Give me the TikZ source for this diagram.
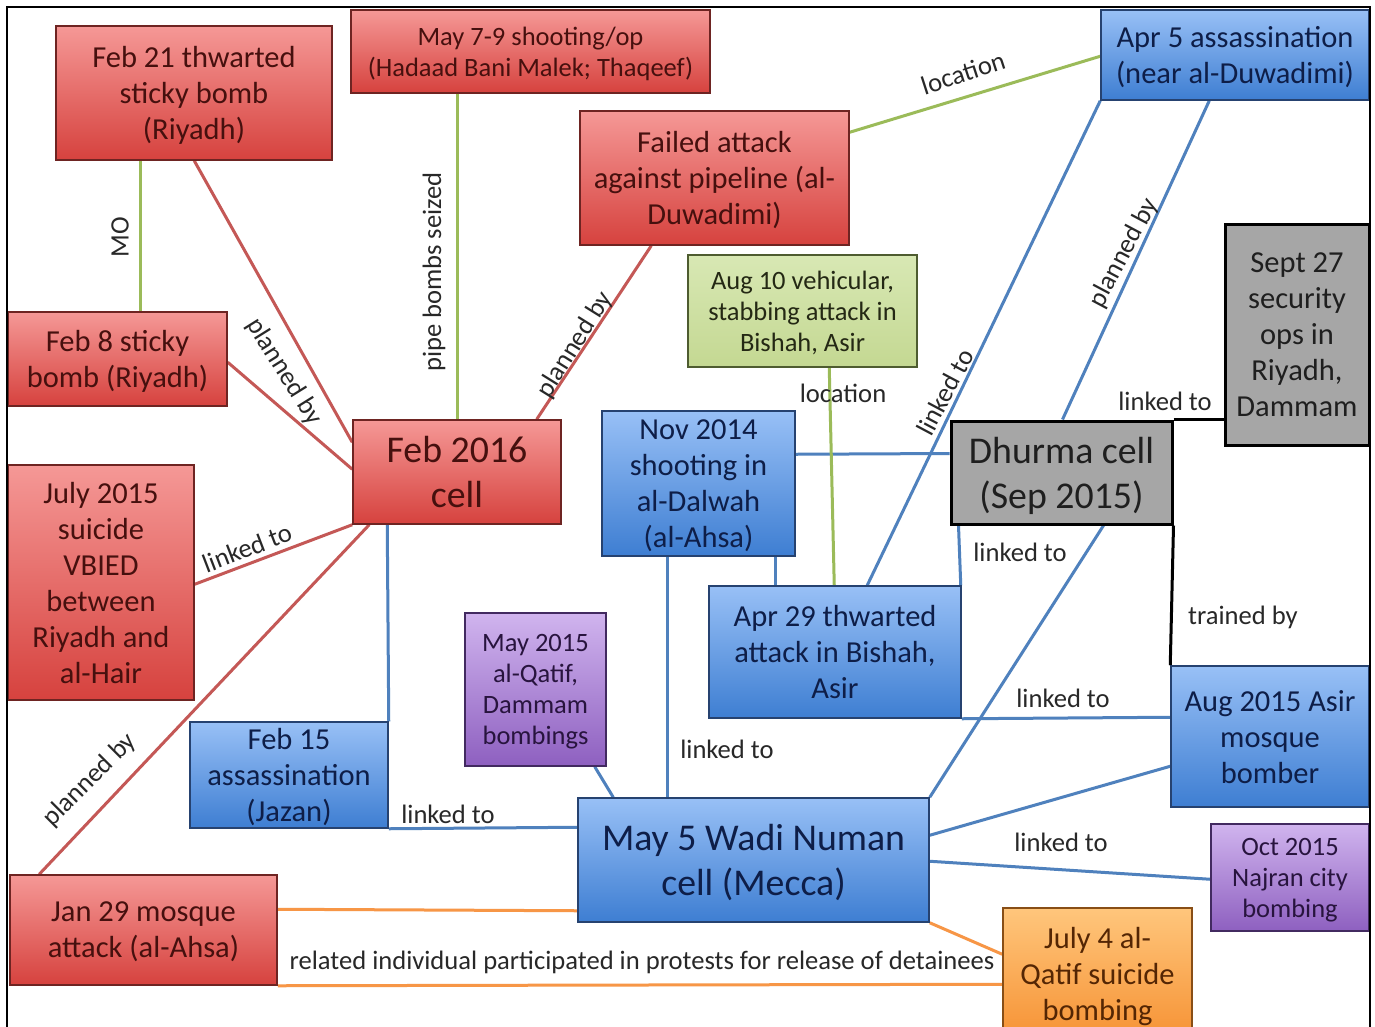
\documentclass[tikz,border=0pt]{standalone}
\usepackage{fontspec}
\setmainfont{Carlito}
\usetikzlibrary{calc,backgrounds}

\definecolor{redtop}{RGB}{245,152,150}
\definecolor{redbot}{RGB}{214,66,62}
\definecolor{redline}{RGB}{110,36,34}
\definecolor{redtext}{RGB}{70,16,14}
\definecolor{bluetop}{RGB}{152,192,246}
\definecolor{bluebot}{RGB}{62,126,210}
\definecolor{blueline}{RGB}{38,66,112}
\definecolor{bluetext}{RGB}{14,30,72}
\definecolor{greentop}{RGB}{216,232,180}
\definecolor{greenbot}{RGB}{196,216,146}
\definecolor{greenline}{RGB}{78,92,48}
\definecolor{greentext}{RGB}{36,40,20}
\definecolor{greyfill}{RGB}{166,166,166}
\definecolor{purpletop}{RGB}{208,180,238}
\definecolor{purplebot}{RGB}{142,96,192}
\definecolor{purpleline}{RGB}{66,42,96}
\definecolor{purpletext}{RGB}{40,20,62}
\definecolor{orangetop}{RGB}{255,198,124}
\definecolor{orangebot}{RGB}{246,146,52}
\definecolor{orangeline}{RGB}{136,78,22}
\definecolor{orangetext}{RGB}{84,38,4}
\definecolor{redlink}{RGB}{196,88,86}
\definecolor{greenlink}{RGB}{155,187,89}
\definecolor{bluelink}{RGB}{79,129,189}
\definecolor{orangelink}{RGB}{247,150,70}
\definecolor{reltext}{RGB}{40,40,40}

\tikzstyle{event}=[rectangle, draw, line width=1.5pt, inner sep=0pt, align=center, text depth=-8pt, font=\fontsize{30.5}{36}\selectfont]
\tikzstyle{small text}=[font=\fontsize{26.5}{31}\selectfont]
\tikzstyle{big text}=[font=\fontsize{37.8}{45}\selectfont]
\tikzstyle{red event}=[event, top color=redtop, bottom color=redbot, draw=redline, text=redtext]
\tikzstyle{blue event}=[event, top color=bluetop, bottom color=bluebot, draw=blueline, text=bluetext]
\tikzstyle{green event}=[event, top color=greentop, bottom color=greenbot, draw=greenline, text=greentext]
\tikzstyle{grey event}=[event, fill=greyfill, draw=black, line width=3pt, text=black!88]
\tikzstyle{purple event}=[event, top color=purpletop, bottom color=purplebot, draw=purpleline, text=purpletext]
\tikzstyle{orange event}=[event, top color=orangetop, bottom color=orangebot, draw=orangeline, text=orangetext]
\tikzstyle{link}=[draw, line width=3pt, -]
\tikzstyle{red link}=[link, draw=redlink]
\tikzstyle{green link}=[link, draw=greenlink]
\tikzstyle{blue link}=[link, draw=bluelink]
\tikzstyle{orange link}=[link, draw=orangelink]
\tikzstyle{black link}=[link, draw=black]
\tikzstyle{relation}=[inner sep=0pt, text=reltext, font=\fontsize{26.6}{30}\selectfont]

\begin{document}
\begin{tikzpicture}[x=1pt, y=-1pt]
	\useasboundingbox (0,0) rectangle (1375,1026);
	\clip (0,0) rectangle (1375,1026);

	\node[red event, minimum width=276pt, minimum height=134pt] (feb21) at (194,93) {Feb 21 thwarted\\sticky bomb\\(Riyadh)};
	\node[red event, small text, minimum width=359pt, minimum height=83pt] (may79) at (530.5,51.5) {May 7-9 shooting/op\\(Hadaad Bani Malek; Thaqeef)};
	\node[red event, minimum width=269pt, minimum height=134pt] (failed) at (714.5,178) {Failed attack\\against pipeline (al-\\Duwadimi)};
	\node[blue event, minimum width=268pt, minimum height=90pt] (apr5) at (1235,55) {Apr 5 assassination\\(near al-Duwadimi)};
	\node[red event, minimum width=219pt, minimum height=94pt] (feb8) at (117.5,359) {Feb 8 sticky\\bomb (Riyadh)};
	\node[red event, big text, minimum width=208pt, minimum height=104pt] (feb16) at (457,472) {Feb 2016\\cell};
	\node[green event, small text, minimum width=229pt, minimum height=112pt] (aug10) at (802.5,311) {Aug 10 vehicular,\\stabbing attack in\\Bishah, Asir};
	\node[grey event, minimum width=144pt, minimum height=221pt] (sep27) at (1297,334.5) {Sept 27\\security\\ops in\\Riyadh,\\Dammam};
	\node[blue event, minimum width=193pt, minimum height=145pt] (nov14) at (698.5,483.5) {Nov 2014\\shooting in\\al-Dalwah\\(al-Ahsa)};
	\node[grey event, big text, minimum width=221pt, minimum height=103pt] (dhurma) at (1061.5,472.5) {Dhurma cell\\(Sep 2015)};
	\node[red event, minimum width=186pt, minimum height=235pt] (jul15) at (101,582.5) {July 2015\\suicide\\VBIED\\between\\Riyadh and\\al-Hair};
	\node[blue event, minimum width=252pt, minimum height=132pt] (apr29) at (835,652) {Apr 29 thwarted\\attack in Bishah,\\Asir};
	\node[purple event, small text, minimum width=141pt, minimum height=153pt] (may15) at (535.5,689.5) {May 2015\\al-Qatif,\\Dammam\\bombings};
	\node[blue event, minimum width=198pt, minimum height=141pt] (aug15) at (1270,736.5) {Aug 2015 Asir\\mosque\\bomber};
	\node[blue event, minimum width=198pt, minimum height=106pt] (feb15) at (289,775) {Feb 15\\assassination\\(Jazan)};
	\node[blue event, big text, minimum width=351pt, minimum height=124pt] (may5) at (753.5,860) {May 5 Wadi Numan\\cell (Mecca)};
	\node[purple event, small text, minimum width=158pt, minimum height=107pt] (oct15) at (1290,877.5) {Oct 2015\\Najran city\\bombing};
	\node[red event, minimum width=267pt, minimum height=110pt] (jan29) at (143.5,930) {Jan 29 mosque\\attack (al-Ahsa)};
	\node[orange event, minimum width=189pt, minimum height=132pt] (jul4) at (1097.5,974) {July 4 al-\\Qatif suicide\\bombing};

	\begin{scope}[on background layer]
		\fill[white] (0,0) rectangle (1375,1026);
		\path[green link] ($(feb21.south west)+(85,0)$) -- ($(feb8.north west)+(133,0)$);
		\path[red link] ($(feb21.south west)+(139,0)$) -- ($(feb16.north west)+(0,23)$);
		\path[red link] ($(feb8.north east)+(0,51)$) -- ($(feb16.north west)+(0,50)$);
		\path[green link] ($(may79.south west)+(107,0)$) -- ($(feb16.north west)+(105,0)$);
		\path[red link] ($(failed.south west)+(72,0)$) -- ($(feb16.north east)+(-25,0)$);
		\path[green link] ($(failed.north east)+(0,22)$) -- ($(apr5.north west)+(0,47)$);
		\path[red link] ($(jul15.north east)+(0,120)$) -- (feb16.south west);
		\path[red link] ($(jan29.north west)+(30,0)$) -- ($(feb16.south west)+(17,0)$);
		\path[blue link] ($(feb16.south west)+(35,0)$) -- (feb15.north east);
		\path[blue link] (feb15.south east) -- ($(may5.north west)+(0,30)$);
		\path[orange link] ($(jan29.north east)+(0,35)$) -- ($(may5.south west)+(0,-12)$);
		\path[orange link] (jan29.south east) -- ($(jul4.north west)+(0,77)$);
		\path[orange link] (may5.south east) -- ($(jul4.north west)+(0,47)$);
		\path[blue link] ($(nov14.south west)+(66,0)$) -- ($(may5.north west)+(90,0)$);
		\path[blue link] ($(nov14.south west)+(174,0)$) -- ($(apr29.north west)+(67,0)$);
		\path[blue link] ($(nov14.north east)+(0,44)$) -- ($(dhurma.north west)+(0,34)$);
		\path[green link] ($(aug10.south west)+(142,0)$) -- ($(apr29.north west)+(126,0)$);
		\path[blue link] (apr5.south west) -- ($(apr29.north west)+(159,0)$);
		\path[blue link] ($(apr5.south west)+(109,0)$) -- ($(dhurma.north west)+(113,0)$);
		\path[black link] (dhurma.north east) -- ($(sep27.north west)+(0,197)$);
		\path[black link] (dhurma.south east) -- (aug15.north west);
		\path[blue link] ($(dhurma.south west)+(9,0)$) -- ($(apr29.north east)+(-1,0)$);
		\path[blue link] ($(dhurma.south west)+(154,0)$) -- (may5.north east);
		\path[blue link] (apr29.south east) -- ($(aug15.north west)+(0,52)$);
		\path[blue link] ($(may5.north east)+(0,38)$) -- ($(aug15.north west)+(0,101)$);
		\path[blue link] ($(may5.north east)+(0,64)$) -- ($(oct15.north west)+(0,56)$);
		\path[blue link] ($(may15.south east)+(-12,0)$) -- ($(may5.north west)+(36,0)$);
	\end{scope}

	\node[relation, rotate=90] (mo) at (120,237) {MO};
	\node[relation, rotate=-58] (plan1) at (284,372) {planned by};
	\node[relation, rotate=90] (pipe) at (434,272) {pipe bombs seized};
	\node[relation, rotate=58] (plan2) at (575,345) {planned by};
	\node[relation, rotate=18] (loc1) at (963,73) {location};
	\node[relation, rotate=21] (link1) at (247,548) {linked to};
	\node[relation, rotate=45] (plan3) at (90,780) {planned by};
	\node[relation] (link2) at (448,814) {linked to};
	\node[relation] (protest) at (642,962) {related individual participated in protests for release of detainees};
	\node[relation] (link3) at (727,749) {linked to};
	\node[relation] (loc2) at (843,393) {location};
	\node[relation, rotate=62] (link4) at (945,392) {linked to};
	\node[relation, rotate=62] (plan4) at (1124,253) {planned by};
	\node[relation] (link5) at (1165,401) {linked to};
	\node[relation] (train) at (1243,617) {trained by};
	\node[relation] (link6) at (1020,552) {linked to};
	\node[relation] (link7) at (1063,698) {linked to};
	\node[relation] (link8) at (1061,842) {linked to};

	\draw[line width=2pt] (7,7) rectangle (1370,1040);
\end{tikzpicture}
\end{document}
